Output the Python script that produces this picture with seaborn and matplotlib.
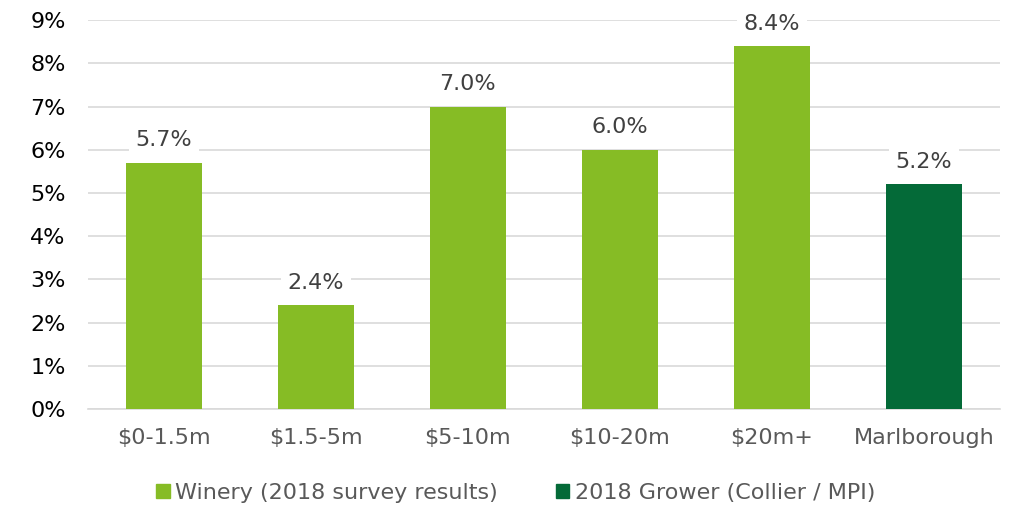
import numpy as np
import pandas as pd
import matplotlib
matplotlib.use("Agg")
import matplotlib.pyplot as plt
import seaborn as sns
from matplotlib.patches import Patch

# data
categories = ['$0-1.5m', '$1.5-5m', '$5-10m', '$10-20m', '$20m+', 'Marlborough']
values = [5.7, 2.4, 7.0, 6.0, 8.4, 5.2]
groups = ['Winery (2018 survey results)'] * 5 + ['2018 Grower (Collier / MPI)']
yticks = [0, 1, 2, 3, 4, 5, 6, 7, 8, 9]

palette = {'Winery (2018 survey results)': '#86bc25',
           '2018 Grower (Collier / MPI)': '#046a38'}

df = pd.DataFrame({'category': categories, 'value': values, 'group': groups})

sns.set_style('white')
plt.rcParams['font.family'] = ['DejaVu Sans']

fig = plt.figure(figsize=[10.11, 5.05], dpi=100)
ax = fig.add_axes([0.087, 0.19, 0.902, 0.77])
sns.barplot(data=df, x='category', y='value', hue='group', palette=palette,
            dodge=False, width=0.5, legend=False, saturation=1, linewidth=0,
            ax=ax, zorder=3)

ax.set_ylim(0, 9)
ax.set_xlim(-0.5, len(categories) - 0.5)
ax.set_yticks(yticks)
ax.set_yticklabels([f'{t}%' for t in yticks])
ax.yaxis.grid(True, color='#d9d9d9', linewidth=1.2, zorder=0)
ax.set_axisbelow(True)
for s in ['top', 'right', 'left']:
    ax.spines[s].set_visible(False)
ax.spines['bottom'].set_color('#d9d9d9')
ax.spines['bottom'].set_linewidth(1.2)
ax.tick_params(axis='y', length=0, labelsize=16, labelcolor='#000000', pad=16)
ax.tick_params(axis='x', length=0, labelsize=16, labelcolor='#595959', pad=14)
ax.set_xlabel('')
ax.set_ylabel('')

for i, v in enumerate(values):
    ax.annotate(f'{v:.1f}%', (i, v), xytext=(0, 9), textcoords='offset points',
                ha='center', va='bottom', fontsize=16, color='#404040', zorder=5,
                bbox=dict(boxstyle='square,pad=0.3', fc='white', ec='none'))

handles = [Patch(color=c, label=l) for l, c in palette.items()]
leg = fig.legend(handles=handles, loc='lower center', bbox_to_anchor=(0.51, -0.035),
                 ncol=2, frameon=False, fontsize=16, handlelength=0.6,
                 handleheight=0.6, handletextpad=0.25, columnspacing=2.6)
for t in leg.get_texts():
    t.set_color('#595959')

fig.savefig('out.png', dpi=100)
